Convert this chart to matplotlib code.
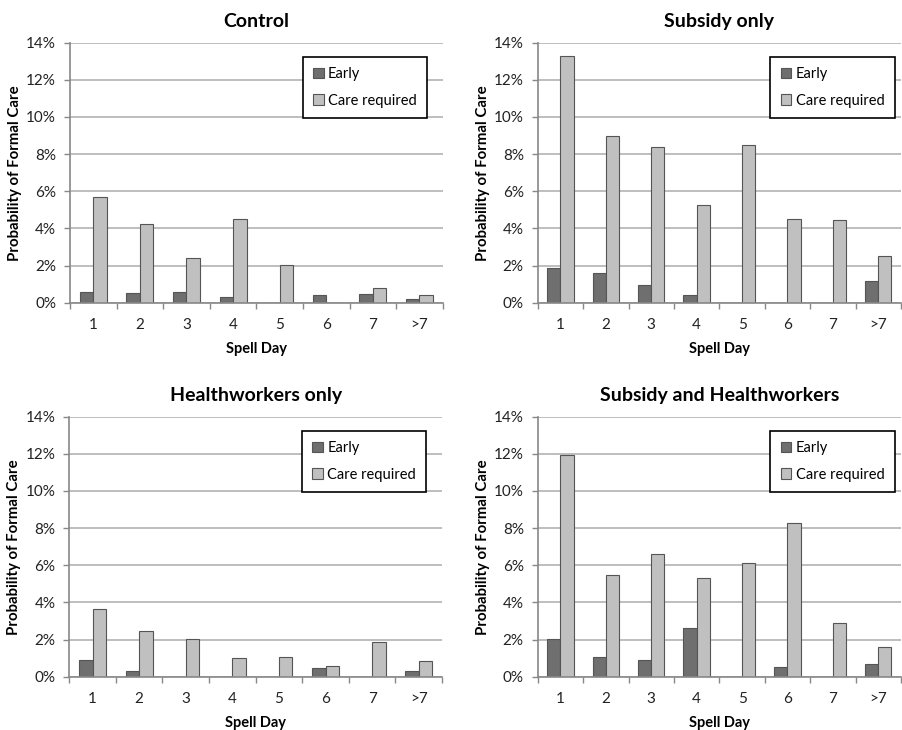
import matplotlib
matplotlib.use("Agg")
import matplotlib.pyplot as plt
from matplotlib.ticker import FixedLocator, FuncFormatter
import numpy as np

plt.rcParams['font.family'] = ['Lato', 'DejaVu Sans']

days = ["1", "2", "3", "4", "5", "6", "7", ">7"]
titles = ["Control", "Subsidy only", "Healthworkers only", "Subsidy and Healthworkers"]

control_early = [0.59, 0.50, 0.59, 0.32, 0.0, 0.39, 0.47, 0.20]
control_care = [5.69, 4.22, 2.39, 4.51, 2.05, 0.0, 0.77, 0.39]
subsidy_early = [1.87, 1.60, 0.93, 0.39, 0.0, 0.0, 0.0, 1.18]
subsidy_care = [13.27, 8.96, 8.36, 5.24, 8.49, 4.51, 4.45, 2.50]
hw_early = [0.92, 0.32, 0.0, 0.0, 0.0, 0.47, 0.0, 0.32]
hw_care = [3.63, 2.44, 2.05, 0.99, 1.04, 0.57, 1.85, 0.84]
both_early = [2.05, 1.06, 0.92, 2.64, 0.0, 0.52, 0.0, 0.66]
both_care = [11.94, 5.49, 6.62, 5.30, 6.10, 8.29, 2.91, 1.62]

early_series = [control_early, subsidy_early, hw_early, both_early]
care_series = [control_care, subsidy_care, hw_care, both_care]

fig = plt.figure(figsize=(9.02, 7.30), dpi=100)
positions = [
    [0.0776, 0.5853, 0.4132, 0.3562],
    [0.5961, 0.5853, 0.4028, 0.3562],
    [0.0768, 0.0730, 0.4132, 0.3562],
    [0.5961, 0.0730, 0.4028, 0.3562],
]
legend_anchor = [(0.958, 0.945), (0.983, 0.945), (0.958, 0.945), (0.983, 0.945)]

early_col = "#6f6f6f"
care_col = "#c0c0c0"
edge_col = "#555555"
grid_col = "#b3b3b3"

x = np.arange(len(days))
w = 0.29
for i in range(4):
    ax = fig.add_axes(positions[i])
    ax.set_axisbelow(True)
    ax.bar(x - w / 2, early_series[i], width=w, color=early_col, edgecolor=edge_col, linewidth=0.8, label="Early")
    ax.bar(x + w / 2, care_series[i], width=w, color=care_col, edgecolor=edge_col, linewidth=0.8, label="Care required")
    ax.set_xlim(-0.5, len(days) - 0.5)
    ax.set_ylim(0, 14)
    ax.set_yticks(np.arange(0, 15, 2))
    ax.yaxis.set_major_formatter(FuncFormatter(lambda v, p: f"{int(round(v))}%"))
    ax.yaxis.grid(True, color=grid_col, linewidth=1.2)
    ax.set_xticks(x)
    ax.set_xticklabels(days)
    ax.xaxis.set_minor_locator(FixedLocator(np.arange(-0.5, len(days), 1.0)))
    ax.tick_params(axis='x', which='major', length=0, pad=11, labelsize=11, colors='#222222')
    ax.tick_params(axis='x', which='minor', length=4, color='#888888', width=1)
    ax.tick_params(axis='y', which='major', length=4, color='#888888', width=1, labelsize=11,
                   labelcolor='#222222', pad=6)
    for s in ['top', 'right']:
        ax.spines[s].set_visible(False)
    for s in ['left', 'bottom']:
        ax.spines[s].set_color('#888888')
        ax.spines[s].set_linewidth(1.2)
    ax.set_title(titles[i], fontsize=14, fontweight='bold', pad=11)
    ax.set_xlabel("Spell Day", fontsize=10.5, fontweight='bold', labelpad=7)
    ax.set_ylabel("Probability of Formal Care", fontsize=10.8, fontweight='bold', labelpad=3)
    leg = ax.legend(loc='upper right', bbox_to_anchor=legend_anchor[i], borderaxespad=0,
                    fancybox=False, edgecolor='black', framealpha=1, fontsize=10.5,
                    handlelength=0.75, handleheight=0.75, handletextpad=0.3,
                    labelspacing=0.85, borderpad=0.7)
    leg.get_frame().set_linewidth(1.2)

fig.savefig("out.png", dpi=100)
